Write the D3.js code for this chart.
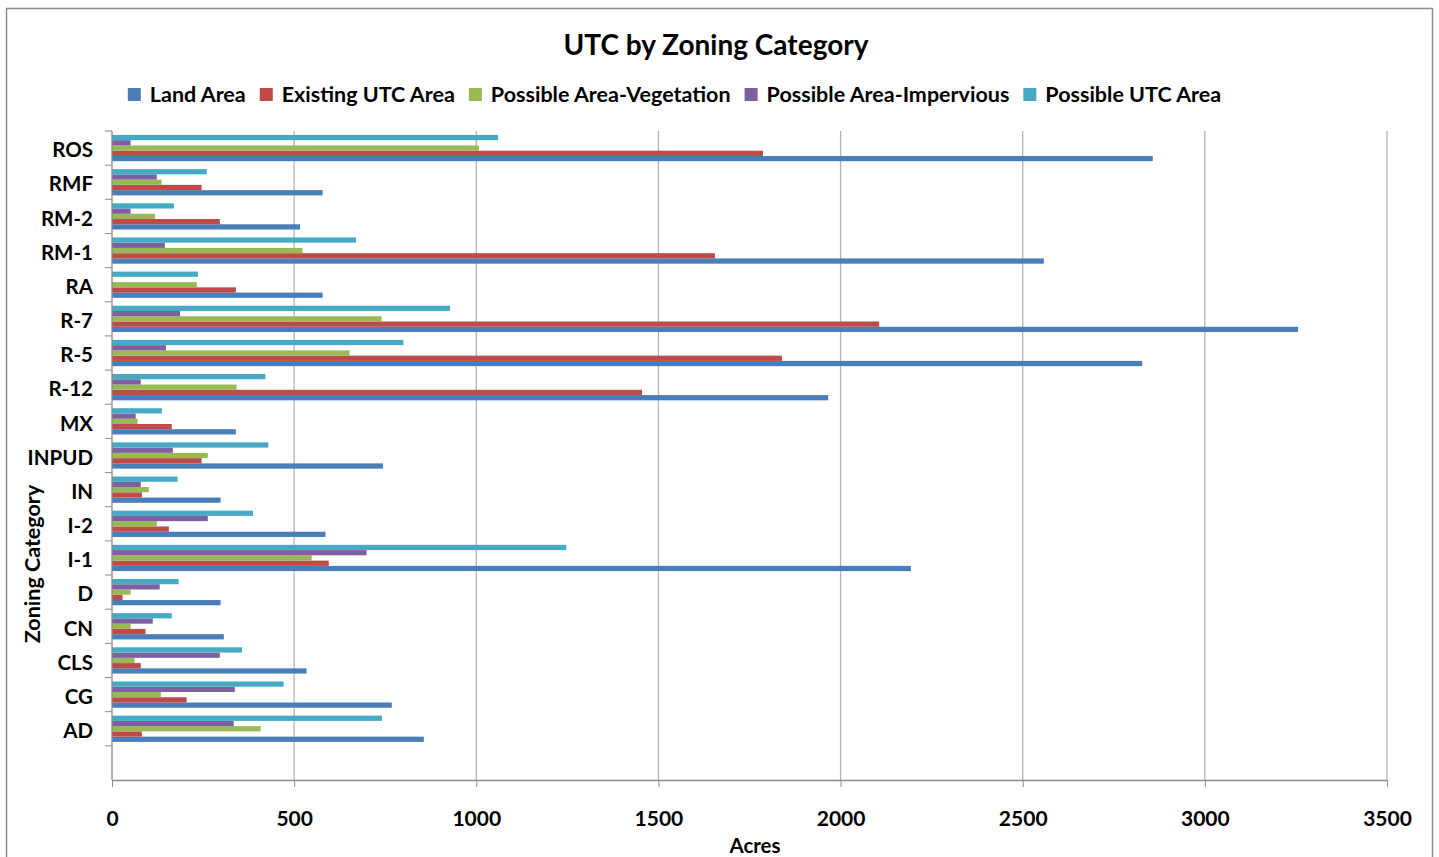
<!DOCTYPE html>
<meta charset="utf-8">
<style>
  body { margin: 0; background: #fff; }
  text { font-family: Lato, "Open Sans", sans-serif; font-weight: bold; fill: #000; }
</style>
<body>
<div id="chart"></div>
<script src="https://d3js.org/d3.v7.min.js"></script>
<script>

  // zoning categories, top to bottom (blank slot at the bottom as in the original)
  const categories = ["ROS", "RMF", "RM-2", "RM-1", "RA", "R-7", "R-5", "R-12", "MX", "INPUD",
    "IN", "I-2", "I-1", "D", "CN", "CLS", "CG", "AD", ""];

  const landArea = [2857, 578, 516, 2558, 578, 3256, 2828, 1966, 340, 744, 298, 586, 2193, 298, 307, 534, 768, 856];
  const existingUTC = [1787, 246, 296, 1655, 340, 2106, 1839, 1455, 164, 246, 82, 156, 595, 29, 92, 79, 205, 82];
  const possibleVeg = [1007, 136, 118, 523, 233, 740, 652, 342, 70, 263, 101, 123, 548, 51, 51, 62, 134, 408];
  const possibleImp = [51, 123, 51, 145, 0, 187, 148, 79, 65, 167, 79, 263, 699, 131, 112, 296, 337, 334];
  const possibleUTC = [1060, 260, 170, 670, 236, 928, 800, 421, 137, 429, 180, 387, 1247, 183, 164, 357, 471, 741];

  const seriesNames = ["Land Area", "Existing UTC Area", "Possible Area-Vegetation", "Possible Area-Impervious", "Possible UTC Area"];
  const seriesValues = [landArea, existingUTC, possibleVeg, possibleImp, possibleUTC];
  const colors = ["#4a7ebb", "#be4b48", "#98b954", "#7d60a0", "#46aac5"];

  const xTicks = [0, 500, 1000, 1500, 2000, 2500, 3000, 3500];

  const width = 1439, height = 857;
  const plot = {left: 112, right: 1387, top: 131, bottom: 780};

  const svg = d3.select("#chart").append("svg")
    .attr("width", width)
    .attr("height", height);

  // chart frame
  svg.append("rect")
    .attr("x", 6.5).attr("y", 8.5)
    .attr("width", 1426).attr("height", 860)
    .attr("fill", "#fff")
    .attr("stroke", "#8c8c8c")
    .attr("stroke-width", 1.5);

  const x = d3.scaleLinear().domain([0, 3500]).range([plot.left, plot.right]);
  const y0 = d3.scaleBand().domain(categories).range([plot.top, plot.bottom]);
  // Land Area sits at the bottom of each group, Possible UTC Area on top
  const y1 = d3.scaleBand()
    .domain(d3.range(seriesNames.length).reverse())
    .range([0, y0.bandwidth()])
    .paddingOuter(0.75);

  // gridlines
  svg.append("g")
    .selectAll("line")
    .data(xTicks.slice(1))
    .join("line")
    .attr("x1", (d) => x(d)).attr("x2", (d) => x(d))
    .attr("y1", plot.top).attr("y2", plot.bottom)
    .attr("stroke", "#b3b3b3")
    .attr("stroke-width", 1.3);

  // bars
  const groups = svg.append("g")
    .selectAll("g")
    .data(categories.filter((c) => c !== ""))
    .join("g")
    .attr("transform", (d) => `translate(0,${y0(d)})`);

  groups.selectAll("rect")
    .data((d, i) => seriesValues.map((vals, s) => ({s: s, v: vals[i]})))
    .join("rect")
    .attr("x", x(0))
    .attr("y", (d) => y1(d.s))
    .attr("width", (d) => x(d.v) - x(0))
    .attr("height", y1.bandwidth())
    .attr("fill", (d) => colors[d.s]);

  // x axis
  const xAxis = svg.append("g")
    .attr("transform", `translate(0,${plot.bottom})`)
    .call(d3.axisBottom(x).tickValues(xTicks).tickFormat(d3.format("d"))
      .tickSize(7).tickPadding(24).tickSizeOuter(0));
  xAxis.select(".domain").attr("stroke", "#8c8c8c").attr("stroke-width", 1.3);
  xAxis.selectAll(".tick line").attr("stroke", "#8c8c8c");
  xAxis.selectAll("text")
    .attr("font-size", 21)
    .style("font-family", "Lato, sans-serif")
    .style("font-weight", "bold")
    .attr("fill", "#000");

  // y axis: ticks on band boundaries, labels centred in the bands
  const yAxis = svg.append("g");
  yAxis.append("line")
    .attr("x1", x(0)).attr("x2", x(0))
    .attr("y1", plot.top).attr("y2", plot.bottom)
    .attr("stroke", "#8c8c8c").attr("stroke-width", 1.3);
  yAxis.selectAll(".ytick")
    .data(categories)
    .join("line")
    .attr("class", "ytick")
    .attr("x1", x(0) - 7).attr("x2", x(0))
    .attr("y1", (d) => y0(d)).attr("y2", (d) => y0(d))
    .attr("stroke", "#8c8c8c");
  yAxis.selectAll(".ylab")
    .data(categories)
    .join("text")
    .attr("class", "ylab")
    .attr("x", 93)
    .attr("y", (d) => y0(d) + y0.bandwidth() / 2)
    .attr("dy", "0.45em")
    .attr("text-anchor", "end")
    .attr("font-size", 20.5)
    .text((d) => d);

  // titles
  svg.append("text")
    .attr("x", 716).attr("y", 55)
    .attr("text-anchor", "middle")
    .attr("font-size", 28)
    .text("UTC by Zoning Category");

  svg.append("text")
    .attr("x", 755).attr("y", 853)
    .attr("text-anchor", "middle")
    .attr("font-size", 20.5)
    .text("Acres");

  svg.append("text")
    .attr("transform", "translate(40,564) rotate(-90)")
    .attr("text-anchor", "middle")
    .attr("font-size", 21.5)
    .text("Zoning Category");

  // legend
  const legend = svg.append("g");
  const items = legend.selectAll("g")
    .data(seriesNames)
    .join("g");
  items.append("rect")
    .attr("width", 13).attr("height", 13)
    .attr("y", -14)
    .attr("fill", (d, i) => colors[i]);
  items.append("text")
    .attr("x", 22)
    .attr("font-size", 21.5)
    .text((d) => d);

  let lx = 0;
  items.each(function () {
    d3.select(this).attr("transform", `translate(${lx},0)`);
    lx += 22 + d3.select(this).select("text").node().getComputedTextLength() + 14;
  });
  const legendW = lx - 14;
  legend.attr("transform", `translate(${674.5 - legendW / 2},102)`);

</script>
</body>
